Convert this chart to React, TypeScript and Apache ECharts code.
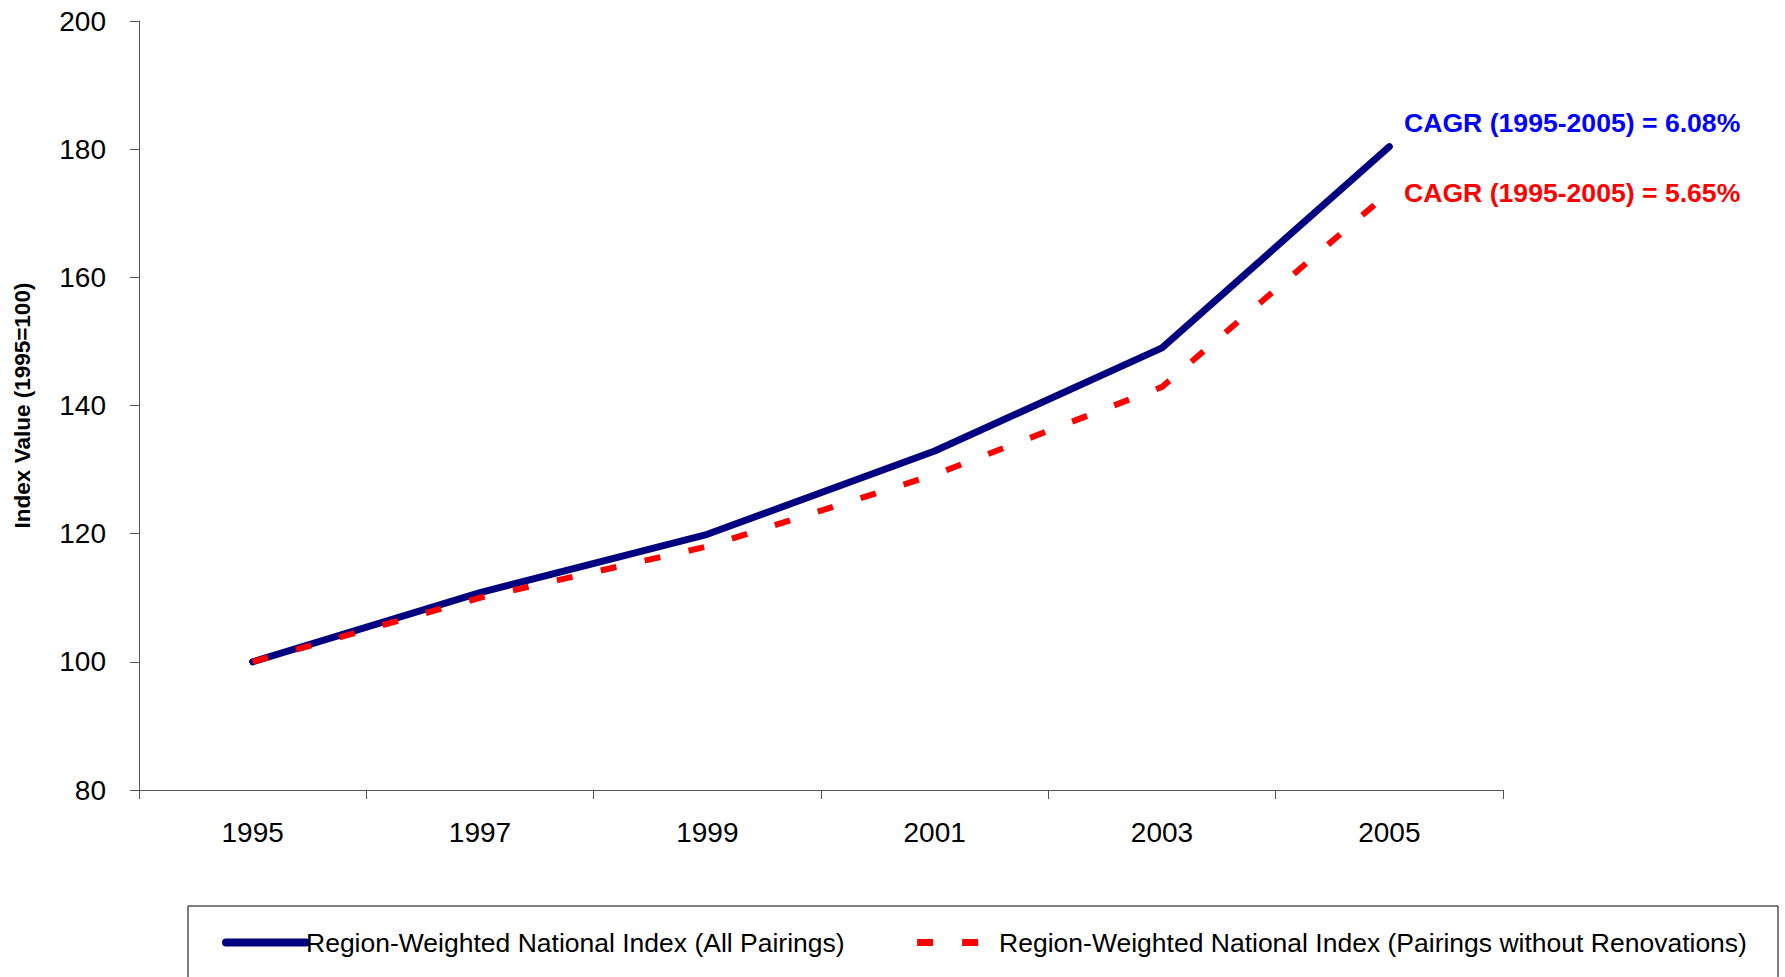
import React, { useEffect, useRef } from "react";
import * as echarts from "echarts";

const years = ["1995", "1997", "1999", "2001", "2003", "2005"];
const allPairings = [100, 110.8, 119.9, 132.9, 149.0, 180.4];
const withoutRenovations = [100, 110.0, 118.0, 129.2, 142.9, 173.3];
const seriesNames = [
  "Region-Weighted National Index (All Pairings)",
  "Region-Weighted National Index (Pairings without Renovations)",
];
const cagrLabels = ["CAGR (1995-2005) = 6.08%", "CAGR (1995-2005) = 5.65%"];
const yTitle = "Index Value (1995=100)";

const FONT = 'Arial, "Liberation Sans", sans-serif';

export default function App() {
  const ref = useRef<HTMLDivElement>(null);
  useEffect(() => {
    if (!ref.current) return;
    const chart = echarts.init(ref.current, null, { renderer: "svg" });
    chart.setOption({
      animation: false,
      backgroundColor: "#ffffff",
      grid: { left: 139, top: 21, right: 282, bottom: 187 },
      xAxis: {
        type: "category",
        data: years,
        boundaryGap: true,
        axisLine: { show: true, lineStyle: { color: "#555", width: 1 } },
        axisTick: { show: true, length: 9, inside: false, lineStyle: { color: "#555" } },
        axisLabel: { fontSize: 28, color: "#000", fontFamily: FONT, margin: 28 },
        splitLine: { show: false },
      },
      yAxis: {
        type: "value",
        min: 80,
        max: 200,
        interval: 20,
        name: yTitle,
        nameLocation: "middle",
        nameRotate: 90,
        nameGap: 105,
        nameTextStyle: { fontSize: 22.5, fontWeight: "bold", color: "#000", fontFamily: FONT },
        axisLine: { show: true, lineStyle: { color: "#555", width: 1 } },
        axisTick: { show: true, length: 9, lineStyle: { color: "#555" } },
        axisLabel: { fontSize: 28, color: "#000", fontFamily: FONT, margin: 33 },
        splitLine: { show: false },
      },
      legend: {
        left: 222,
        top: 929,
        padding: 0,
        itemGap: 55,
        itemWidth: 80,
        itemHeight: 28,
        textStyle: { fontSize: 26.5, color: "#000", fontFamily: FONT },
        data: [
          {
            name: seriesNames[0],
            itemStyle: { opacity: 0 },
            lineStyle: { color: "#000080", width: 8, cap: "round", type: "solid" },
            textStyle: { padding: [0, 0, 0, -5] },
          },
          {
            name: seriesNames[1],
            itemStyle: { opacity: 0 },
            lineStyle: { color: "#FF0000", width: 7, type: [16, 29], dashOffset: 31, cap: "butt" },
            textStyle: { padding: [0, 0, 0, 11] },
          },
        ],
      },
      graphic: [
        {
          type: "rect",
          shape: { x: 188, y: 906, width: 1590, height: 120 },
          style: { fill: "none", stroke: "#000", lineWidth: 1 },
          silent: true,
        },
        {
          type: "text",
          x: 1404,
          y: 123,
          style: {
            text: cagrLabels[0],
            fill: "#0000FF",
            font: `bold 26.6px ${FONT}`,
            textVerticalAlign: "middle",
          },
        },
        {
          type: "text",
          x: 1404,
          y: 193,
          style: {
            text: cagrLabels[1],
            fill: "#FF0000",
            font: `bold 26.6px ${FONT}`,
            textVerticalAlign: "middle",
          },
        },
      ],
      series: [
        {
          name: seriesNames[0],
          type: "line",
          data: allPairings,
          symbol: "none",
          lineStyle: { color: "#000080", width: 7, cap: "round", join: "round" },
          itemStyle: { color: "#000080" },
          z: 2,
        },
        {
          name: seriesNames[1],
          type: "line",
          data: withoutRenovations,
          symbol: "none",
          lineStyle: { color: "#FF0000", width: 6, type: [16, 29], cap: "butt" },
          itemStyle: { color: "#FF0000" },
          z: 3,
        },
      ],
    });
    return () => chart.dispose();
  }, []);
  return (
    <div
      ref={ref}
      style={{ position: "fixed", left: 0, top: 0, width: 1785, height: 977, background: "#fff" }}
    />
  );
}
